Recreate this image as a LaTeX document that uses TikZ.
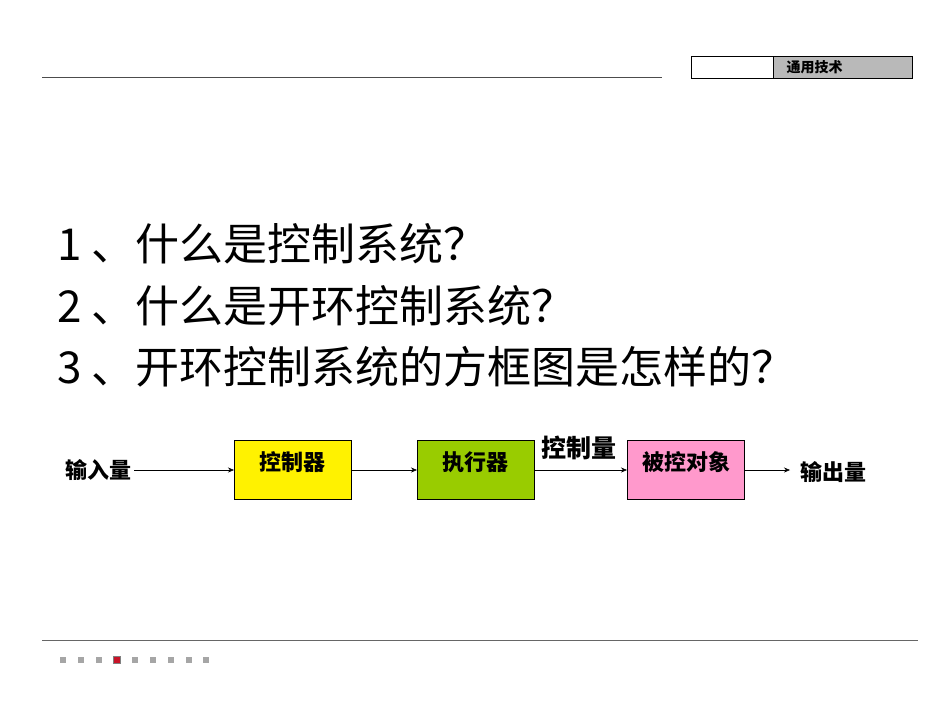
\documentclass[tikz,border=0pt]{standalone}
\usepackage{fontspec}
\setmainfont{Liberation Sans}
\newfontfamily\cjk{Noto Sans CJK SC}
\usetikzlibrary{arrows.meta}
\begin{document}
\begin{tikzpicture}[x=1pt,y=-1pt,
  blk/.style={draw=black,line width=0.6pt,minimum width=117pt,minimum height=59pt,anchor=north west,inner sep=0pt},
  lbl/.style={font=\cjk\bfseries\fontsize{22}{26}\selectfont},
  qs/.style={anchor=west,font=\cjk\fontsize{44}{48}\selectfont},
  arr/.style={-{Stealth[length=6pt,width=5pt]},line width=0.6pt},
  sq/.style={fill=gray!70,minimum size=6pt,inner sep=0pt,draw=none}]
\useasboundingbox (0,0) rectangle (950,713);
\fill[white] (0,0) rectangle (950,713);
\draw[line width=0.8pt,black!70] (42,77) -- (662,77);
\draw[line width=0.8pt,black!60] (42,640) -- (918,640);
\node[draw=black,line width=0.6pt,minimum width=82pt,minimum height=22pt,anchor=north west,inner sep=0pt] (hb1) at (691,56) {};
\node[draw=black,fill=gray!55,line width=0.6pt,minimum width=139pt,minimum height=22pt,anchor=north west,inner sep=0pt] (hb2) at (773,56) {};
\node[font=\cjk\bfseries\fontsize{14}{16}\selectfont,anchor=west] (ht) at (783,67) {通用技术};
\node[qs] (q1) at (54,244) {1 、什么是控制系统？};
\node[qs] (q2) at (54,306) {2 、什么是开环控制系统？};
\node[qs] (q3) at (54,367) {3 、开环控制系统的方框图是怎样的？};
\node[blk,fill=yellow] (c) at (234,440) {};
\node[blk,fill={rgb,255:red,153;green,204;blue,0}] (e) at (417,440) {};
\node[blk,fill={rgb,255:red,255;green,153;blue,204}] (p) at (627,440) {};
\node[lbl] (ct) at (292,462) {控制器};
\node[lbl] (et) at (475,462) {执行器};
\node[lbl] (pt) at (686,462) {被控对象};
\node[lbl] (in) at (98,470) {输入量};
\node[lbl] (out) at (833,472) {输出量};
\node[lbl,font=\cjk\bfseries\fontsize{25}{28}\selectfont] (cl) at (579,448) {控制量};
\coordinate (a1) at (134,470);
\coordinate (a2) at (790,470);
\draw[arr] (a1) -- (a1 -| c.west);
\draw[arr] (c.east |- 0,470) -- (e.west |- 0,470);
\draw[arr] (e.east |- 0,470) -- (p.west |- 0,470);
\draw[arr] (p.east |- 0,470) -- (a2);
\foreach \x/\i in {63/1,81/2,99/3,135/5,153/6,171/7,189/8,206/9} \node[sq] (s\i) at (\x,660) {};
\node[fill={rgb,255:red,200;green,20;blue,40},draw=gray,line width=0.8pt,minimum size=7pt,inner sep=0pt] (s4) at (117,660) {};
\end{tikzpicture}
\end{document}
